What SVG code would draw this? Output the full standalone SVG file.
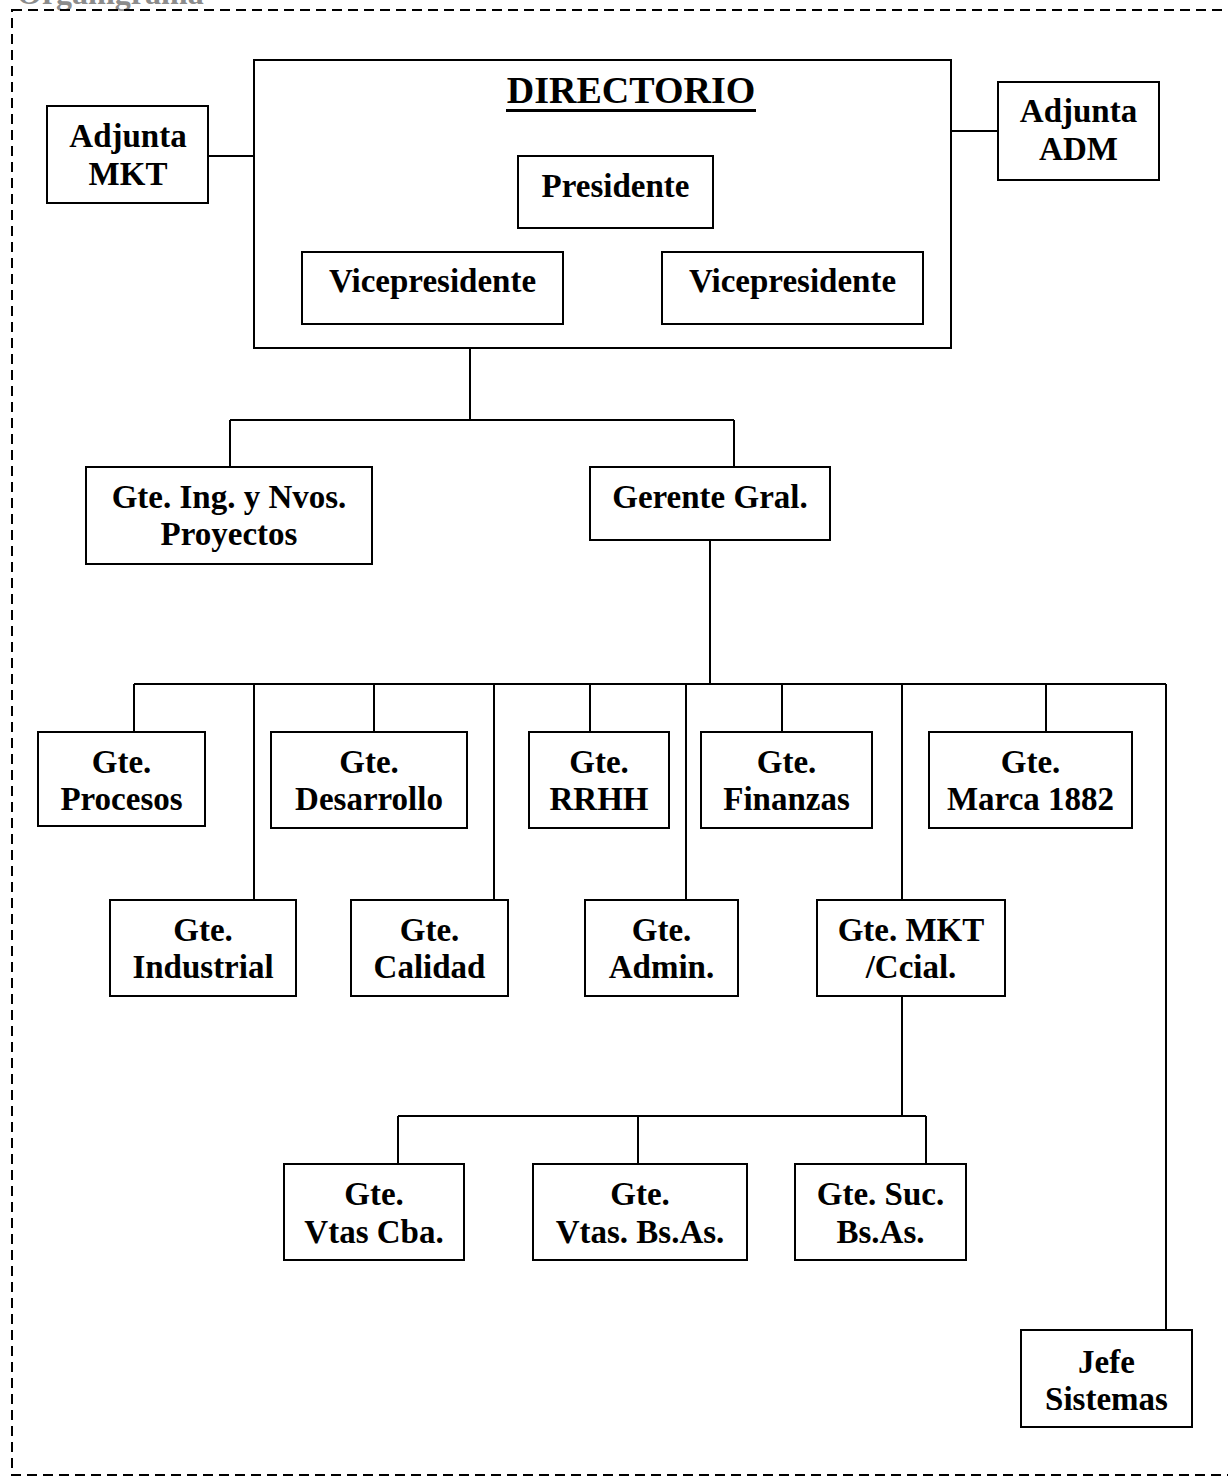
<svg xmlns="http://www.w3.org/2000/svg" width="1228" height="1478" viewBox="0 0 1228 1478">
<style>
.box{fill:#fff;stroke:#000;stroke-width:2}
.t{font-family:"Liberation Serif","Times New Roman",serif;font-weight:bold;font-size:33px;text-anchor:middle;fill:#000}
.c{stroke:#000;stroke-width:2;fill:none}
.frame{fill:none;stroke:#000;stroke-width:2;stroke-dasharray:10 6}
</style>
<rect fill="#fff" x="0" y="0" width="1228" height="1478"/>
<text x="17" y="4" style="font-family:'Liberation Serif','Times New Roman',serif;font-weight:bold;font-size:32px;fill:#8c8c8c">Organigrama</text>
<rect class="frame" x="12" y="10" width="1240" height="1465"/>
<g id="connectors">
<path class="c" d="M208,156 H254 M951,131 H998"/>
<path class="c" d="M470,348 V420 M230,420 H734 M230,420 V467 M734,420 V467"/>
<path class="c" d="M710,540 V684 M134,684 H1166 M134,684 V732 M254,684 V900 M374,684 V732 M494,684 V900 M590,684 V732 M686,684 V900 M782,684 V732 M902,684 V900 M1046,684 V732 M1166,684 V1330"/>
<path class="c" d="M902,996 V1116 M398,1116 H926 M398,1116 V1164 M638,1116 V1164 M926,1116 V1164"/>
</g>
<g id="adjunta-mkt"><rect class="box" x="47" y="106" width="161" height="97"/><text class="t" x="128" y="147">Adjunta</text><text class="t" x="128" y="185">MKT</text></g>
<g id="directorio"><rect class="box" x="254" y="60" width="697" height="288"/><text class="t" x="631" y="103" style="font-size:38px">DIRECTORIO</text><rect x="506" y="109" width="250" height="3" fill="#000"/></g>
<g id="presidente"><rect class="box" x="518" y="156" width="195" height="72"/><text class="t" x="615.5" y="197">Presidente</text></g>
<g id="vice1"><rect class="box" x="302" y="252" width="261" height="72"/><text class="t" x="432.5" y="292">Vicepresidente</text></g>
<g id="vice2"><rect class="box" x="662" y="252" width="261" height="72"/><text class="t" x="792.5" y="292">Vicepresidente</text></g>
<g id="adjunta-adm"><rect class="box" x="998" y="82" width="161" height="98"/><text class="t" x="1078.5" y="122">Adjunta</text><text class="t" x="1078.5" y="160">ADM</text></g>
<g id="gte-ing"><rect class="box" x="86" y="467" width="286" height="97"/><text class="t" x="229" y="508">Gte. Ing. y Nvos.</text><text class="t" x="229" y="545">Proyectos</text></g>
<g id="gerente-gral"><rect class="box" x="590" y="467" width="240" height="73"/><text class="t" x="710" y="508">Gerente Gral.</text></g>
<g id="gte-procesos"><rect class="box" x="38" y="732" width="167" height="94"/><text class="t" x="121.5" y="773">Gte.</text><text class="t" x="121.5" y="810">Procesos</text></g>
<g id="gte-desarrollo"><rect class="box" x="271" y="732" width="196" height="96"/><text class="t" x="369" y="773">Gte.</text><text class="t" x="369" y="810">Desarrollo</text></g>
<g id="gte-rrhh"><rect class="box" x="529" y="732" width="140" height="96"/><text class="t" x="599" y="773">Gte.</text><text class="t" x="599" y="810">RRHH</text></g>
<g id="gte-finanzas"><rect class="box" x="701" y="732" width="171" height="96"/><text class="t" x="786.5" y="773">Gte.</text><text class="t" x="786.5" y="810">Finanzas</text></g>
<g id="gte-marca"><rect class="box" x="929" y="732" width="203" height="96"/><text class="t" x="1030.5" y="773">Gte.</text><text class="t" x="1030.5" y="810">Marca 1882</text></g>
<g id="gte-industrial"><rect class="box" x="110" y="900" width="186" height="96"/><text class="t" x="203" y="941">Gte.</text><text class="t" x="203" y="978">Industrial</text></g>
<g id="gte-calidad"><rect class="box" x="351" y="900" width="157" height="96"/><text class="t" x="429.5" y="941">Gte.</text><text class="t" x="429.5" y="978">Calidad</text></g>
<g id="gte-admin"><rect class="box" x="585" y="900" width="153" height="96"/><text class="t" x="661.5" y="941">Gte.</text><text class="t" x="661.5" y="978">Admin.</text></g>
<g id="gte-mkt"><rect class="box" x="817" y="900" width="188" height="96"/><text class="t" x="911" y="941">Gte. MKT</text><text class="t" x="911" y="978">/Ccial.</text></g>
<g id="gte-vtas-cba"><rect class="box" x="284" y="1164" width="180" height="96"/><text class="t" x="374" y="1205">Gte.</text><text class="t" x="374" y="1243">Vtas Cba.</text></g>
<g id="gte-vtas-bsas"><rect class="box" x="533" y="1164" width="214" height="96"/><text class="t" x="640" y="1205">Gte.</text><text class="t" x="640" y="1243">Vtas. Bs.As.</text></g>
<g id="gte-suc"><rect class="box" x="795" y="1164" width="171" height="96"/><text class="t" x="880.5" y="1205">Gte. Suc.</text><text class="t" x="880.5" y="1243">Bs.As.</text></g>
<g id="jefe-sistemas"><rect class="box" x="1021" y="1330" width="171" height="97"/><text class="t" x="1106.5" y="1373">Jefe</text><text class="t" x="1106.5" y="1410">Sistemas</text></g>
</svg>
